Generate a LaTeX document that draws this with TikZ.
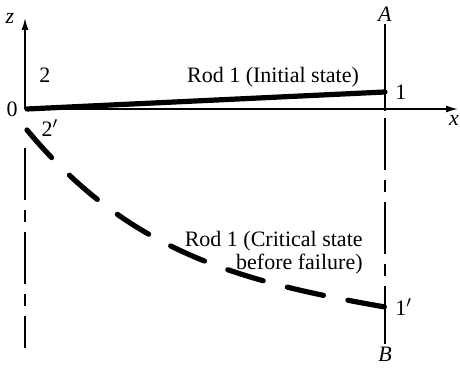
\documentclass[tikz,border=0pt]{standalone}
\usepackage{fontspec}
\setmainfont{Liberation Serif}
\usetikzlibrary{arrows.meta,positioning}

\tikzset{
  thinline/.style={line width=0.75pt},
  rodline/.style={line width=2.6pt, line cap=round},
  critline/.style={rodline, dash pattern=on 18.5pt off 12.5pt},
  dashdot/.style={thinline, dash pattern=on 26pt off 5pt on 6pt off 5pt},
  lbl/.style={font=\fontsize{11}{11.5}\selectfont, inner sep=1pt},
}

\begin{document}
\begin{tikzpicture}[x=0.5pt,y=0.5pt]
  \useasboundingbox (0,0) rectangle (460,368);
  % axes
  \coordinate (O) at (25,259);
  \coordinate (ztip) at (25,350);
  \coordinate (xtip) at (458,259);
  \draw[thinline,-{Latex[length=6pt,width=3.5pt]}] (O) -- (ztip);
  \draw[thinline,-{Latex[length=6pt,width=3.5pt]}] (O) -- (xtip);
  \node[lbl] (zlab) at (10,350) {\textit{z}};
  \node[lbl] (xlab) at (454,248) {\textit{x}};
  \node[lbl] (olab) at (12,259) {0};

  % support lines
  \node[lbl] (Alab) at (385,354) {\textit{A}};
  \node[lbl] (Blab) at (385,14) {\textit{B}};
  \coordinate (ABmid) at (385,257);
  \coordinate (ABlow) at (385,250);
  \coordinate (ABdash) at (385,92);
  \coordinate (ABtail) at (385,82);
  \draw[thinline] (Alab.south) -- (ABmid);
  \draw[dashdot] (ABlow) -- (ABdash);
  \draw[thinline] (ABtail) -- (Blab.north);
  \coordinate (Ltop) at (25,220);
  \coordinate (Lbot) at (25,20);
  \draw[dashdot] (Ltop) -- (Lbot);

  % rod 1, initial state
  \coordinate (r2) at (27,259);
  \coordinate (r1) at (385,276);
  \draw[rodline] (r2) -- (r1);
  \node[lbl] (p2) at (45,293) {2};
  \node[lbl, right=4pt of r1] (p1) {1};
  \node[lbl] (initlab) at (273,291) {Rod 1 (Initial state)};

  % rod 1, critical state
  \coordinate (c2) at (27,238);
  \coordinate (c1) at (385,61);
  \draw[critline] (c2) .. controls (127,118) and (235,87) .. (c1);
  \node[lbl] (p2c) at (50,240) {2$'$};
  \node[lbl, right=4pt of c1] (p1c) {1$'$};
  \node[lbl, anchor=east, align=right] (critlab) at (365,115)
    {Rod 1 (Critical state\\before failure)};
\end{tikzpicture}
\end{document}
